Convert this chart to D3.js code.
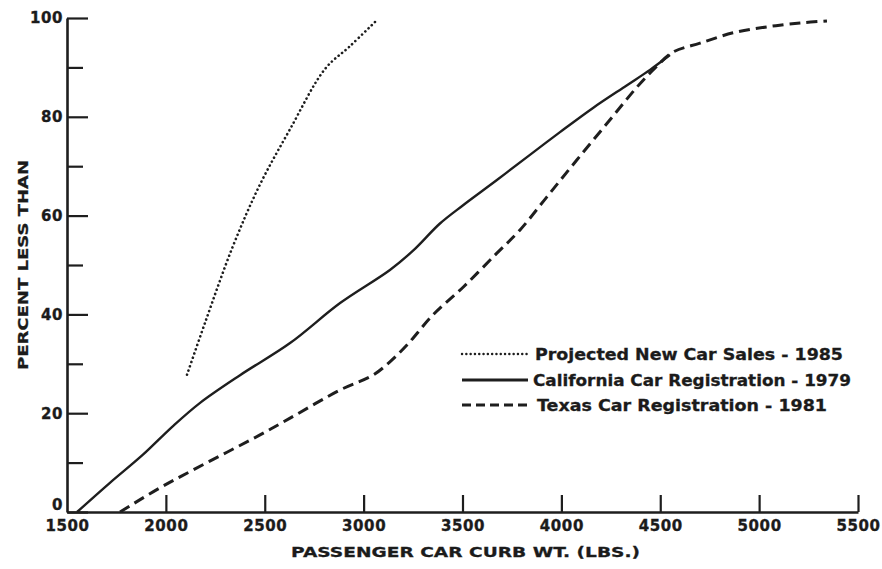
<!DOCTYPE html>
<html>
<head>
<meta charset="utf-8">
<script src="https://cdn.jsdelivr.net/npm/d3@7"></script>
<style>
  html, body { margin: 0; padding: 0; background: #fff; }
  svg { display: block; }
  text { font-family: "DejaVu Sans", "Liberation Sans", sans-serif; font-weight: bold; fill: #1b1b1b; }
</style>
</head>
<body>
<svg id="chart" width="882" height="569"></svg>
<script>
// Cumulative distribution of passenger car curb weight
const projectedWeight = [2107, 2198, 2339, 2476, 2628, 2805, 2931, 3073];
const projectedPct    = [27.8, 38.3, 53.8, 66.3, 77.5, 89.7, 94.3, 99.8];

const californiaWeight = [1551, 1717, 1884, 2036, 2173, 2375, 2628, 2881, 3133, 3250, 3386, 3503, 3674, 3841, 3993, 4160, 4332, 4448, 4549];
const californiaPct    = [0, 5.9, 11.6, 17.4, 22.1, 27.7, 34.2, 42.3, 49.0, 52.9, 58.4, 62.1, 67.2, 72.3, 76.9, 81.8, 86.4, 89.5, 92.5];

const texasWeight = [1768, 1970, 2137, 2309, 2476, 2628, 2881, 3047, 3133, 3219, 3351, 3503, 3674, 3791, 3927, 4079, 4246, 4382, 4474, 4565, 4701, 4868, 5040, 5207, 5343];
const texasPct    = [0, 4.9, 8.5, 12.1, 15.6, 19.0, 24.7, 27.7, 30.4, 33.8, 39.9, 45.5, 52.4, 57.1, 63.8, 71.3, 79.4, 86.0, 89.9, 93.1, 94.9, 97.0, 98.2, 99.0, 99.4];

const xTicks = [1500, 2000, 2500, 3000, 3500, 4000, 4500, 5000, 5500];
const yMajorTicks = [0, 20, 40, 60, 80, 100];
const yMinorTicks = [10, 30, 50, 70, 90];

const seriesNames = [
  "Projected New Car Sales - 1985",
  "California Car Registration - 1979",
  "Texas Car Registration - 1981"
];
const xTitle = "PASSENGER CAR CURB WT. (LBS.)";
const yTitle = "PERCENT LESS THAN";

const svg = d3.select("#chart");
const ink = "#1e1e1e";

const x = d3.scaleLinear().domain([1500, 5500]).range([67, 858]);
const y = d3.scaleLinear().domain([0, 100]).range([512, 18]);

const tickFont = sel => sel
  .attr("font-size", 15).attr("fill", ink)
  .style("font-family", "'DejaVu Sans', sans-serif")
  .style("font-weight", "bold")
  .style("letter-spacing", "0.6px")
  .attr("stroke", ink).attr("stroke-width", 0.35);

// x axis: ticks point up into the plot
const xAxis = svg.append("g")
  .attr("transform", `translate(0,${y(0)})`)
  .call(d3.axisBottom(x).tickValues(xTicks).tickSizeInner(-17).tickSizeOuter(0).tickPadding(8).tickFormat(d3.format("d")));
xAxis.select(".domain").attr("stroke", ink).attr("stroke-width", 2.6);
xAxis.selectAll(".tick line").attr("stroke", ink).attr("stroke-width", 2.2)
  .filter(d => d === 1500).remove();
xAxis.selectAll(".tick text").call(tickFont);

// y axis: major ticks with labels, minor ticks without
const yAxis = svg.append("g")
  .attr("transform", `translate(${x(1500)},0)`)
  .call(d3.axisLeft(y).tickValues(yMajorTicks).tickSizeInner(-21).tickSizeOuter(0).tickPadding(4));
yAxis.select(".domain").attr("stroke", ink).attr("stroke-width", 2.6);
yAxis.selectAll(".tick line").attr("stroke", ink).attr("stroke-width", 2.2);
yAxis.selectAll(".tick text").call(tickFont)
  .attr("dy", d => d === 0 ? "-0.15em" : "0.32em");

const yMinor = svg.append("g")
  .attr("transform", `translate(${x(1500)},0)`)
  .call(d3.axisLeft(y).tickValues(yMinorTicks).tickSizeInner(-16).tickSizeOuter(0).tickFormat(""));
yMinor.select(".domain").remove();
yMinor.selectAll(".tick line").attr("stroke", ink).attr("stroke-width", 2.2);

// axis titles
svg.append("text")
  .attr("x", 291).attr("y", 557)
  .attr("font-size", 14.5)
  .attr("stroke", ink).attr("stroke-width", 0.3)
  .attr("textLength", 349).attr("lengthAdjust", "spacingAndGlyphs")
  .text(xTitle);

svg.append("text")
  .attr("transform", "translate(28,370) rotate(-90)")
  .attr("font-size", 14.5)
  .attr("stroke", ink).attr("stroke-width", 0.3)
  .attr("textLength", 210).attr("lengthAdjust", "spacingAndGlyphs")
  .text(yTitle);

// curves
const line = d3.line()
  .x(d => x(d[0]))
  .y(d => y(d[1]))
  .curve(d3.curveCatmullRom.alpha(0.5));

const styles = [
  { dash: "0.1 4.4", width: 2.6, cap: "round" },
  { dash: null, width: 2.4, cap: "butt" },
  { dash: "11 6", width: 3, cap: "butt" }
];

const series = [
  d3.zip(projectedWeight, projectedPct),
  d3.zip(californiaWeight, californiaPct),
  d3.zip(texasWeight, texasPct)
];

series.forEach((pts, i) => {
  svg.append("path")
    .datum(pts)
    .attr("d", line)
    .attr("fill", "none")
    .attr("stroke", ink)
    .attr("stroke-width", styles[i].width)
    .attr("stroke-linecap", styles[i].cap)
    .attr("stroke-dasharray", styles[i].dash);
});

// legend
const legendRows = [
  { y: 354, textX: 535, textLen: 308 },
  { y: 380, textX: 533, textLen: 318 },
  { y: 405, textX: 537, textLen: 290 }
];
const legendDash = ["0.1 4.2", null, "9 5"];
legendRows.forEach((r, i) => {
  svg.append("line")
    .attr("x1", 462).attr("x2", 528)
    .attr("y1", r.y).attr("y2", r.y)
    .attr("stroke", ink)
    .attr("stroke-width", i === 0 ? 2.4 : 2.8)
    .attr("stroke-linecap", i === 0 ? "round" : "butt")
    .attr("stroke-dasharray", legendDash[i]);
  svg.append("text")
    .attr("x", r.textX).attr("y", r.y + 5.5)
    .attr("font-size", 15)
    .attr("stroke", ink).attr("stroke-width", 0.3)
    .attr("textLength", r.textLen).attr("lengthAdjust", "spacingAndGlyphs")
    .text(seriesNames[i]);
});
</script>
</body>
</html>
